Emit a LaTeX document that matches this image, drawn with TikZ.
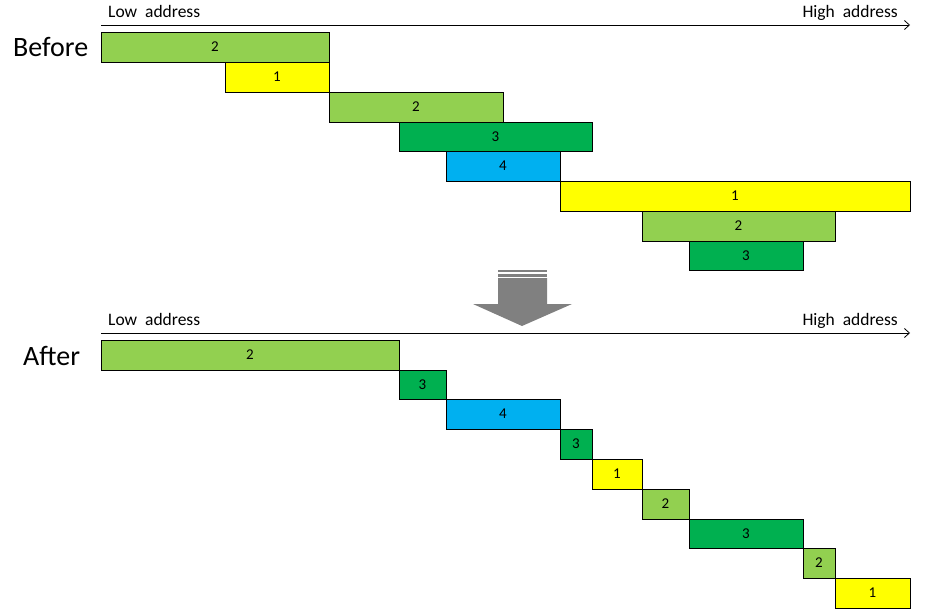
\documentclass[tikz,border=0pt]{standalone}
\usepackage{fontspec}
\setmainfont{Carlito}
\usetikzlibrary{arrows.meta}
\definecolor{lgreen}{RGB}{146,208,80}
\definecolor{dgreen}{RGB}{0,176,80}
\definecolor{sblue}{RGB}{0,176,240}
\definecolor{syellow}{RGB}{255,255,0}
\definecolor{agray}{RGB}{128,128,128}
\tikzset{
  blk/.style={draw=black, line width=0.9pt, inner sep=0pt, outer sep=0pt, font=\fontsize{15}{15}\selectfont},
  axis/.style={line width=0.8pt, -{Straight Barb[length=5pt,width=9pt]}},
  addr/.style={font=\fontsize{17.5}{17.5}\selectfont, inner sep=0pt},
  phase/.style={font=\fontsize{28}{28}\selectfont, inner sep=0pt},
}
\newcommand{\blkbox}[7]{%
  \node[blk, fill=#6, minimum width={(#4)-(#2)}, minimum height={(#5)-(#3)}]
    (#1) at ({((#2)+(#4))/2},{((#3)+(#5))/2}) {#7};}
\begin{document}
\begin{tikzpicture}[x=1pt,y=-1pt]
\useasboundingbox (0,0) rectangle (932,615);
% top axis
\coordinate (a1s) at (101,25);
\coordinate (a1e) at (910,25);
\draw[axis] (a1s) -- (a1e);
\node[addr, anchor=base west] (low1) at (108,18) {Low\ \ address};
\node[addr, anchor=base east] (high1) at (898,18) {High\ \ address};
\node[phase, anchor=base west] (before) at (13,57) {Before};
% before blocks
\blkbox{b1}{101}{32}{329}{62}{lgreen}{2}
\blkbox{b2}{225}{62}{329}{92}{syellow}{1}
\blkbox{b3}{329}{92}{503}{122}{lgreen}{2}
\blkbox{b4}{399}{122}{592}{151}{dgreen}{3}
\blkbox{b5}{446}{151}{560}{181}{sblue}{4}
\blkbox{b6}{560}{181}{910}{211}{syellow}{1}
\blkbox{b7}{642}{211}{835}{241}{lgreen}{2}
\blkbox{b8}{689}{241}{803}{270}{dgreen}{3}
% big arrow
\fill[agray] (498,270) rectangle (547,272);
\fill[agray] (498,273.5) rectangle (547,276.5);
\fill[agray] (498,278) -- (547,278) -- (547,304) -- (572,304) -- (522,326) -- (473,304) -- (498,304) -- cycle;
% bottom axis
\coordinate (a2s) at (101,333);
\coordinate (a2e) at (910,333);
\draw[axis] (a2s) -- (a2e);
\node[addr, anchor=base west] (low2) at (108,325) {Low\ \ address};
\node[addr, anchor=base east] (high2) at (898,325) {High\ \ address};
\node[phase, anchor=base west] (after) at (23,365) {After};
% after blocks
\blkbox{c1}{101}{340}{399}{370}{lgreen}{2}
\blkbox{c2}{399}{370}{446}{399}{dgreen}{3}
\blkbox{c3}{446}{399}{560}{429}{sblue}{4}
\blkbox{c4}{560}{429}{592}{459}{dgreen}{3}
\blkbox{c5}{592}{459}{642}{489}{syellow}{1}
\blkbox{c6}{642}{489}{689}{519}{lgreen}{2}
\blkbox{c7}{689}{519}{803}{548}{dgreen}{3}
\blkbox{c8}{803}{548}{835}{578}{lgreen}{2}
\blkbox{c9}{835}{578}{910}{608}{syellow}{1}
\end{tikzpicture}
\end{document}
